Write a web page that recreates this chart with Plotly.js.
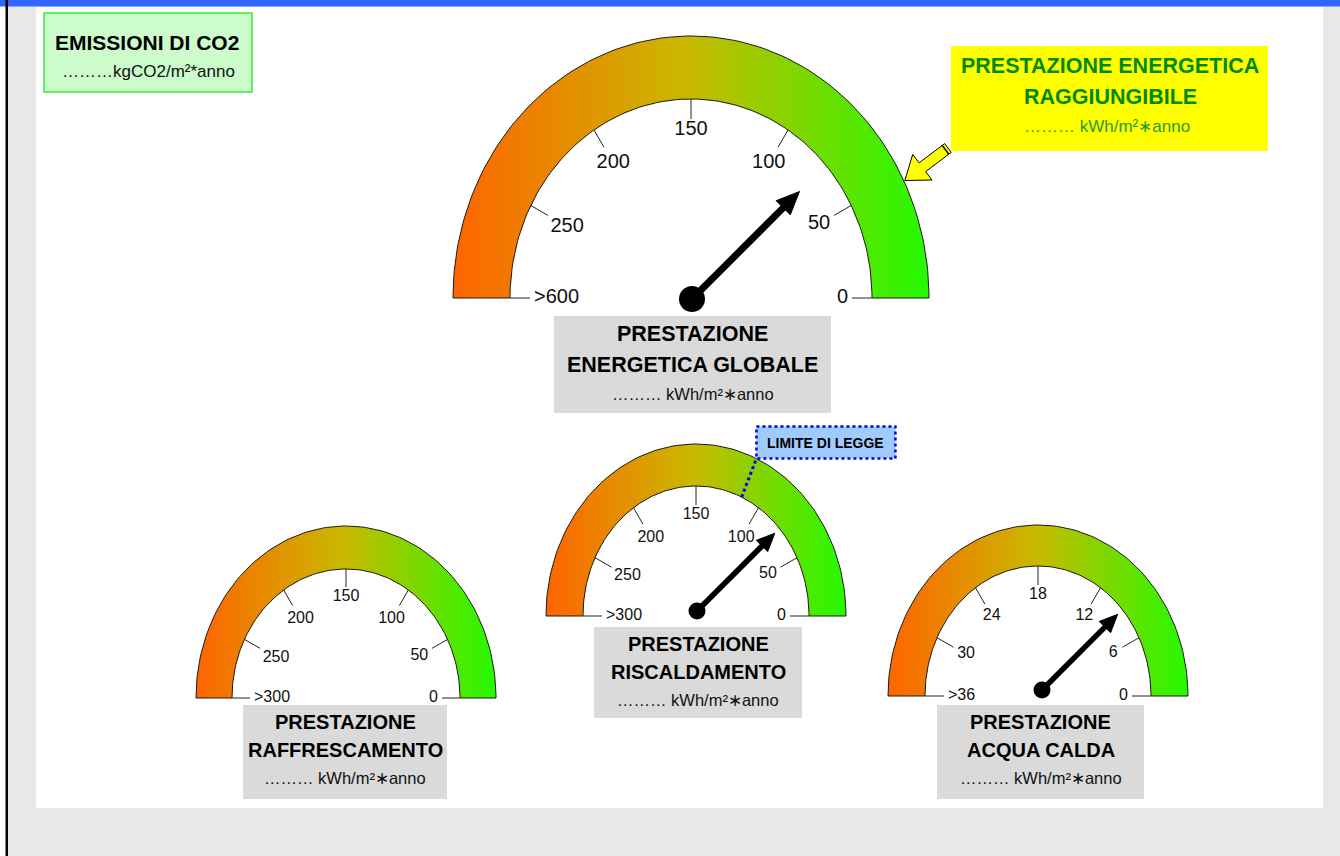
<!DOCTYPE html>
<html>
<head>
<meta charset="utf-8">
<script src="https://cdn.plot.ly/plotly-3.0.1.min.js"></script>
<style>
html,body{margin:0;padding:0;background:#ffffff;}
#chart{width:1340px;height:856px;}
</style>
</head>
<body>
<div id="chart"></div>
<script>
// ------------------------- DATA -------------------------
const gaugeTitles = [
  ['PRESTAZIONE', 'ENERGETICA GLOBALE'],
  ['PRESTAZIONE', 'RAFFRESCAMENTO'],
  ['PRESTAZIONE', 'RISCALDAMENTO'],
  ['PRESTAZIONE', 'ACQUA CALDA']
];
const gaugeUnit = '……… kWh/m²∗anno';
const ticksGlobal  = ['>600', '250', '200', '150', '100', '50', '0'];
const ticksCooling = ['>300', '250', '200', '150', '100', '50', '0'];
const ticksHeating = ['>300', '250', '200', '150', '100', '50', '0'];
const ticksWater   = ['>36', '30', '24', '18', '12', '6', '0'];
const scaleMax     = [300, 300, 300, 36];
const needleValues = [75, null, 75, 9];
const heatingLegalLimit = 115;
const achievableGlobal  = 48;
const co2Title   = 'EMISSIONI DI CO2';
const co2Unit    = '………kgCO2/m²*anno';
const achTitle   = ['PRESTAZIONE ENERGETICA', 'RAGGIUNGIBILE'];
const achUnit    = '……… kWh/m²∗anno';
const limitLabel = 'LIMITE DI LEGGE';

// ------------------------- LAYOUT CONFIG -------------------------
const FONT = 'Liberation Sans, Arial, sans-serif';
const gaugeTicks = [ticksGlobal, ticksCooling, ticksHeating, ticksWater];
const G = [
  {cx:691, cy:298, rxo:238, ryo:262, rxi:181, ryi:199, tick:20, fs:20, piv:[1,1], nlen:152, shaft:7, headL:23, headW:10, dot:26,
   box:[554,831,316,413], lines:[334,365,394], tfs:21.5, ufs:16.5},
  {cx:346, cy:698, rxo:150, ryo:172, rxi:114, ryi:129, tick:18, fs:16,
   box:[243,447,705,799], lines:[722,750,778], tfs:20, ufs:16.5},
  {cx:696, cy:616, rxo:150, ryo:172, rxi:113, ryi:130, tick:19, fs:16, piv:[1,-5], nlen:110, shaft:5.5, headL:18, headW:8, dot:17,
   box:[594,802,627,718], lines:[644,672,700], tfs:20, ufs:16.5},
  {cx:1038, cy:696, rxo:150, ryo:171, rxi:113, ryi:130, tick:19, fs:16, piv:[4,-6], nlen:107, shaft:5.5, headL:18, headW:8, dot:17,
   box:[937,1144,705,799], lines:[722,750,778], tfs:20, ufs:16.5}
];
const gradScale = [[0,'rgb(255,100,0)'],[0.5,'rgb(200,186,0)'],[1,'rgb(36,250,0)']];

const rad = d => d*Math.PI/180;
function rEll(rx, ry, phi){ const c=Math.cos(rad(phi)), s=Math.sin(rad(phi)); return 1/Math.sqrt((c/rx)*(c/rx)+(s/ry)*(s/ry)); }
function pt(g, r, phi){ return [g.cx + r*Math.cos(rad(phi)), g.cy - r*Math.sin(rad(phi))]; }
function angOf(v, max){ return 180*v/max; }
function tw(s, fs){ let w=0; for (const ch of s) w += (ch==='>'?0.584:0.556); return w*fs; }
function ann(x, y, text, size, color, bold){
  return {x:x, y:y, xref:'x', yref:'y', text:text, showarrow:false,
          font:{family:FONT, size:size, color:color, weight: bold ? 'bold' : 'normal'}};
}

const traces = [];
const shapes = [];
const annotations = [];

// background
shapes.push({type:'rect', xref:'x', yref:'y', x0:8, x1:1340, y0:0, y1:856, fillcolor:'#e8e8e8', line:{width:0}, layer:'below'});
shapes.push({type:'rect', xref:'x', yref:'y', x0:0, x1:1340, y0:0, y1:6.5, fillcolor:'#3366ff', line:{width:0}, layer:'below'});
shapes.push({type:'rect', xref:'x', yref:'y', x0:5.5, x1:8, y0:0, y1:856, fillcolor:'#000000', line:{width:0}, layer:'below'});
shapes.push({type:'rect', xref:'x', yref:'y', x0:36, x1:1323, y0:7, y1:808, fillcolor:'#ffffff', line:{width:0}, layer:'below'});

// CO2 box
shapes.push({type:'rect', xref:'x', yref:'y', x0:44, x1:252, y0:13, y1:92, fillcolor:'#ccfbcc', line:{color:'#33ee33', width:1.5}, layer:'below'});
annotations.push(ann(147, 42, co2Title, 21, '#000', true));
annotations.push(ann(148, 71, co2Unit, 17, '#111', false));

// achievable box
shapes.push({type:'rect', xref:'x', yref:'y', x0:951, x1:1268, y0:46, y1:151, fillcolor:'#ffff00', line:{width:0}, layer:'below'});
annotations.push(ann(1110, 66, achTitle[0], 21.5, '#008a00', true));
annotations.push(ann(1110, 97, achTitle[1], 21.5, '#008a00', true));
annotations.push(ann(1107, 126, achUnit, 17, '#2a9a2a', false));

// gauges
G.forEach((g, gi) => {
  const xs=[], ys=[]; const N=120;
  for (let k=0;k<=N;k++){ const t=180-180*k/N; xs.push(g.cx+g.rxo*Math.cos(rad(t))); ys.push(g.cy-g.ryo*Math.sin(rad(t))); }
  for (let k=0;k<=N;k++){ const t=180*k/N; xs.push(g.cx+g.rxi*Math.cos(rad(t))); ys.push(g.cy-g.ryi*Math.sin(rad(t))); }
  xs.push(xs[0]); ys.push(ys[0]);
  traces.push({x:xs, y:ys, type:'scatter', mode:'lines', fill:'toself', fillcolor:'rgb(198,184,0)',
    fillgradient:{type:'horizontal', start:g.cx-g.rxo, stop:g.cx+g.rxo, colorscale:gradScale},
    line:{color:'#1a1a1a', width:1}, hoverinfo:'skip', showlegend:false});

  const labels = gaugeTicks[gi];
  const tx=[], ty=[], lx=[], ly=[];
  labels.forEach((lab, i) => {
    const v = scaleMax[gi]*(labels.length-1-i)/(labels.length-1);
    const phi = angOf(v, scaleMax[gi]);
    const rIn = rEll(g.rxi, g.ryi, phi);
    const a = pt(g, rIn, phi), b = pt(g, rIn-g.tick, phi);
    tx.push(a[0], b[0], null); ty.push(a[1], b[1], null);
    const w = tw(lab, g.fs), h = 0.72*g.fs;
    const sup = Math.abs(Math.cos(rad(phi)))*w/2 + Math.abs(Math.sin(rad(phi)))*h/2;
    const p = pt(g, rIn-g.tick-4-sup, phi);
    lx.push(p[0]); ly.push(p[1]);
  });
  traces.push({x:tx, y:ty, type:'scatter', mode:'lines', line:{color:'#222', width:1}, hoverinfo:'skip', showlegend:false});
  traces.push({x:lx, y:ly, text:labels, type:'scatter', mode:'text', textposition:'middle center',
    textfont:{family:FONT, size:g.fs, color:'#111'}, hoverinfo:'skip', showlegend:false});

  const val = needleValues[gi];
  if (val !== null && val !== undefined){
    const phi = angOf(val, scaleMax[gi]);
    const px = g.cx + g.piv[0], py = g.cy + g.piv[1];
    const ux = Math.cos(rad(phi)), uy = -Math.sin(rad(phi));
    const tip = [px+ux*g.nlen, py+uy*g.nlen];
    const base = [px+ux*(g.nlen-g.headL), py+uy*(g.nlen-g.headL)];
    const nx = -uy, ny = ux;
    traces.push({x:[px, base[0]+ux*2], y:[py, base[1]+uy*2], type:'scatter', mode:'lines', line:{color:'#000', width:g.shaft}, hoverinfo:'skip', showlegend:false});
    traces.push({x:[tip[0], base[0]+nx*g.headW, base[0]-nx*g.headW, tip[0]], y:[tip[1], base[1]+ny*g.headW, base[1]-ny*g.headW, tip[1]],
      type:'scatter', mode:'lines', fill:'toself', fillcolor:'#000', line:{color:'#000', width:1}, hoverinfo:'skip', showlegend:false});
    traces.push({x:[px], y:[py], type:'scatter', mode:'markers', marker:{size:g.dot, color:'#000', line:{width:0}}, hoverinfo:'skip', showlegend:false});
  }

  shapes.push({type:'rect', xref:'x', yref:'y', x0:g.box[0], x1:g.box[1], y0:g.box[2], y1:g.box[3], fillcolor:'#dadada', line:{width:0}, layer:'below'});
  const bx = (g.box[0]+g.box[1])/2;
  annotations.push(ann(bx, g.lines[0], gaugeTitles[gi][0], g.tfs, '#000', true));
  annotations.push(ann(bx, g.lines[1], gaugeTitles[gi][1], g.tfs, '#000', true));
  annotations.push(ann(bx, g.lines[2], gaugeUnit, g.ufs, '#111', false));
});

// legal limit on heating gauge
(function(){
  const g = G[2];
  const phi = angOf(heatingLegalLimit, scaleMax[2]);
  const a = pt(g, rEll(g.rxi, g.ryi, phi), phi);
  const b = pt(g, rEll(g.rxo, g.ryo, phi), phi);
  shapes.push({type:'line', xref:'x', yref:'y', x0:a[0], y0:a[1], x1:b[0], y1:b[1], line:{color:'#0000ee', width:3, dash:'dot'}, layer:'above'});
  const bw = 139, bh = 32;
  shapes.push({type:'rect', xref:'x', yref:'y', x0:b[0], x1:b[0]+bw, y0:b[1]-bh, y1:b[1], fillcolor:'#9fcbff', line:{color:'#0000ee', width:2.5, dash:'dot'}, layer:'above'});
  annotations.push(ann(b[0]+bw/2, b[1]-bh/2, limitLabel, 14, '#000', true));
})();

// achievable arrow pointing on global gauge
(function(){
  const g = G[0];
  const phi = angOf(achievableGlobal, scaleMax[0]);
  const T = pt(g, rEll(g.rxo, g.ryo, phi)+1, phi);
  const dir = 37;
  const ux = Math.cos(rad(dir)), uy = -Math.sin(rad(dir));
  const nx = -uy, ny = ux;
  const hl = 22, hw = 16, sw = 5.5, len = 54;
  const B = [T[0]+ux*hl, T[1]+uy*hl], E = [T[0]+ux*len, T[1]+uy*len];
  const P = [T, [B[0]+nx*hw, B[1]+ny*hw], [B[0]+nx*sw, B[1]+ny*sw], [E[0]+nx*sw, E[1]+ny*sw], [E[0]-nx*sw, E[1]-ny*sw], [B[0]-nx*sw, B[1]-ny*sw], [B[0]-nx*hw, B[1]-ny*hw]];
  const path = 'M ' + P.map(p => p[0].toFixed(1)+' '+p[1].toFixed(1)).join(' L ') + ' Z';
  shapes.push({type:'path', xref:'x', yref:'y', path:path, fillcolor:'#ffff00', line:{color:'#000', width:1}, layer:'above'});
  const C = [E[0]-ux*3, E[1]-uy*3];
  const cap = 'M '+(C[0]+nx*sw).toFixed(1)+' '+(C[1]+ny*sw).toFixed(1)+' L '+(C[0]-nx*sw).toFixed(1)+' '+(C[1]-ny*sw).toFixed(1);
  shapes.push({type:'path', xref:'x', yref:'y', path:cap, line:{color:'#000', width:1.5}, layer:'above'});
})();

const layout = {
  width:1340, height:856, autosize:false,
  margin:{l:0, r:0, t:0, b:0, pad:0},
  paper_bgcolor:'#ffffff', plot_bgcolor:'rgba(0,0,0,0)',
  xaxis:{range:[0,1340], visible:false, fixedrange:true},
  yaxis:{range:[856,0], visible:false, fixedrange:true},
  showlegend:false,
  shapes:shapes,
  annotations:annotations
};
Plotly.newPlot('chart', traces, layout, {displayModeBar:false, staticPlot:true});
</script>
</body>
</html>
